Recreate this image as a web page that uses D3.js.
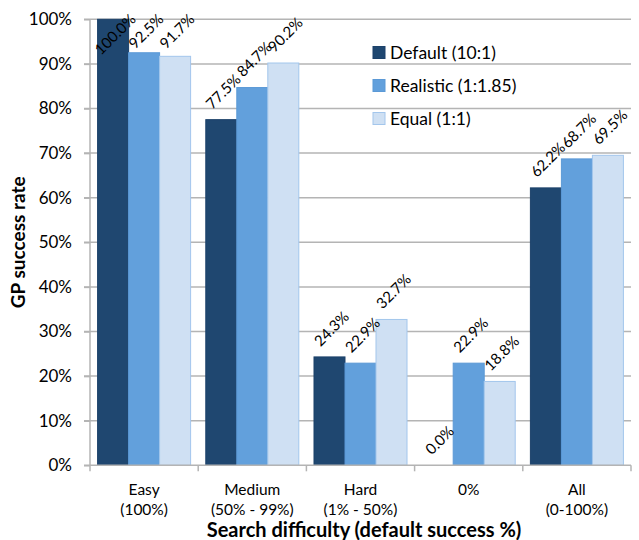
<!DOCTYPE html>
<html>
<head>
<meta charset="utf-8">
<script src="https://cdn.jsdelivr.net/npm/d3@7"></script>
<style>
  body { margin: 0; background: #fff; }
  text { font-family: Lato, "Open Sans", sans-serif; fill: #000; }
</style>
</head>
<body>
<div id="chart"></div>
<script>
const ancho = 639
const alto = 540

// datos
const categorias = ["Easy", "Medium", "Hard", "0%", "All"]
const subEtiquetas = ["(100%)", "(50% - 99%)", "(1% - 50%)", "", "(0-100%)"]
const series = ["Default (10:1)", "Realistic (1:1.85)", "Equal (1:1)"]
const valDefault = [100.0, 77.5, 24.3, 0.0, 62.2]
const valRealistic = [92.5, 84.7, 22.9, 22.9, 68.7]
const valEqual = [91.7, 90.2, 32.7, 18.8, 69.5]
const ticksY = [0, 10, 20, 30, 40, 50, 60, 70, 80, 90, 100]

const colores = ["#1f4770", "#62a0dc", "#cfe0f3"]
const bordes = ["#1c416a", "#5b99d6", "#a3c6ec"]

const valores = [valDefault, valRealistic, valEqual]
const datos = []
categorias.forEach((c, i) => {
    series.forEach((s, j) => {
        datos.push({cat: c, serie: s, idx: j, v: valores[j][i]})
    })
})

const svg = d3.select("#chart").append("svg")
    .attr("width", ancho)
    .attr("height", alto)

const izq = 90, der = 631, arriba = 19.3, abajo = 465.3

// escalas
const x = d3.scaleBand().domain(categorias).range([izq, der]).padding(0)
const xs = d3.scaleBand().domain(series).range([0, x.bandwidth()])
    .paddingInner(0).paddingOuter(0.245)
const y = d3.scaleLinear().domain([0, 100]).range([abajo, arriba])

// rejilla
svg.append("g").selectAll("line").data(ticksY.filter(t => t > 0)).join("line")
    .attr("x1", izq - 6).attr("x2", der)
    .attr("y1", d => y(d)).attr("y2", d => y(d))
    .attr("stroke", "#b4b4b4").attr("stroke-width", 1.5)

// eje y
const ejeY = d3.axisLeft(y).tickValues(ticksY).tickFormat(d => d + "%").tickSize(6).tickPadding(12)
const grupoY = svg.append("g").attr("transform", `translate(${izq},0)`).call(ejeY)
grupoY.select(".domain").attr("stroke", "#b4b4b4").attr("stroke-width", 1.5).attr("d", `M0,${arriba}V${abajo}`)
grupoY.selectAll(".tick line").attr("stroke", "#b4b4b4").attr("stroke-width", 1.5)
grupoY.selectAll(".tick text").style("font-size", "17px").style("font-family", "Lato")

// barras
svg.append("g").selectAll("rect").data(datos).join("rect")
    .attr("x", d => x(d.cat) + xs(d.serie))
    .attr("width", xs.bandwidth())
    .attr("y", d => y(d.v))
    .attr("height", d => y(0) - y(d.v))
    .attr("fill", d => colores[d.idx])
    .attr("stroke", d => bordes[d.idx])
    .attr("stroke-width", 1)

// eje x
const grupoX = svg.append("g")
grupoX.append("line").attr("x1", izq - 6).attr("x2", der)
    .attr("y1", abajo).attr("y2", abajo)
    .attr("stroke", "#b4b4b4").attr("stroke-width", 1.5)
const bordesX = categorias.map(c => x(c)).concat([der])
grupoX.selectAll("line.tk").data(bordesX).join("line").attr("class", "tk")
    .attr("x1", d => d).attr("x2", d => d)
    .attr("y1", abajo).attr("y2", abajo + 6)
    .attr("stroke", "#b4b4b4").attr("stroke-width", 1.5)
grupoX.selectAll("text.cat").data(categorias).join("text").attr("class", "cat")
    .attr("x", d => x(d) + x.bandwidth() / 2)
    .attr("y", 495)
    .attr("text-anchor", "middle")
    .style("font-size", "15.5px")
    .text(d => d)
grupoX.selectAll("text.sub").data(subEtiquetas).join("text").attr("class", "sub")
    .attr("x", (d, i) => x(categorias[i]) + x.bandwidth() / 2)
    .attr("y", 515)
    .attr("text-anchor", "middle")
    .style("font-size", "15.5px")
    .text(d => d)

// etiquetas de valor
const etiquetas = svg.append("g").selectAll("text").data(datos).join("text")
    .attr("text-anchor", "middle")
    .attr("dominant-baseline", "central")
    .style("font-size", "15px")
    .text(d => d.v.toFixed(1) + "%")
etiquetas.each(function(d) {
    const w = this.getComputedTextLength()
    const mitad = (w + 17) / (2 * Math.SQRT2)
    const cx = x(d.cat) + xs(d.serie) + xs.bandwidth() / 2 + 1.5
    let cy = y(d.v) - 8 - mitad
    if (cy - mitad < 10) cy = 10 + mitad
    d3.select(this).attr("transform", `translate(${cx},${cy}) rotate(-45)`)
})

// titulos
svg.append("text")
    .attr("transform", `translate(25,${(arriba + abajo) / 2}) rotate(-90)`)
    .attr("text-anchor", "middle")
    .style("font-size", "19px").style("font-weight", "bold")
    .text("GP success rate")
svg.append("text")
    .attr("x", 364).attr("y", 537)
    .attr("text-anchor", "middle")
    .style("font-size", "20px").style("font-weight", "bold")
    .text("Search difficulty (default success %)")

// leyenda
const leyenda = svg.append("g").selectAll("g").data(series).join("g")
    .attr("transform", (d, i) => `translate(373,${52.5 + i * 33})`)
leyenda.append("rect")
    .attr("x", 0).attr("y", -6).attr("width", 12).attr("height", 12)
    .attr("fill", (d, i) => colores[i]).attr("stroke", (d, i) => bordes[i])
leyenda.append("text")
    .attr("x", 17).attr("y", 0)
    .attr("dominant-baseline", "central")
    .style("font-size", "17.5px")
    .text(d => d)
</script>
</body>
</html>
